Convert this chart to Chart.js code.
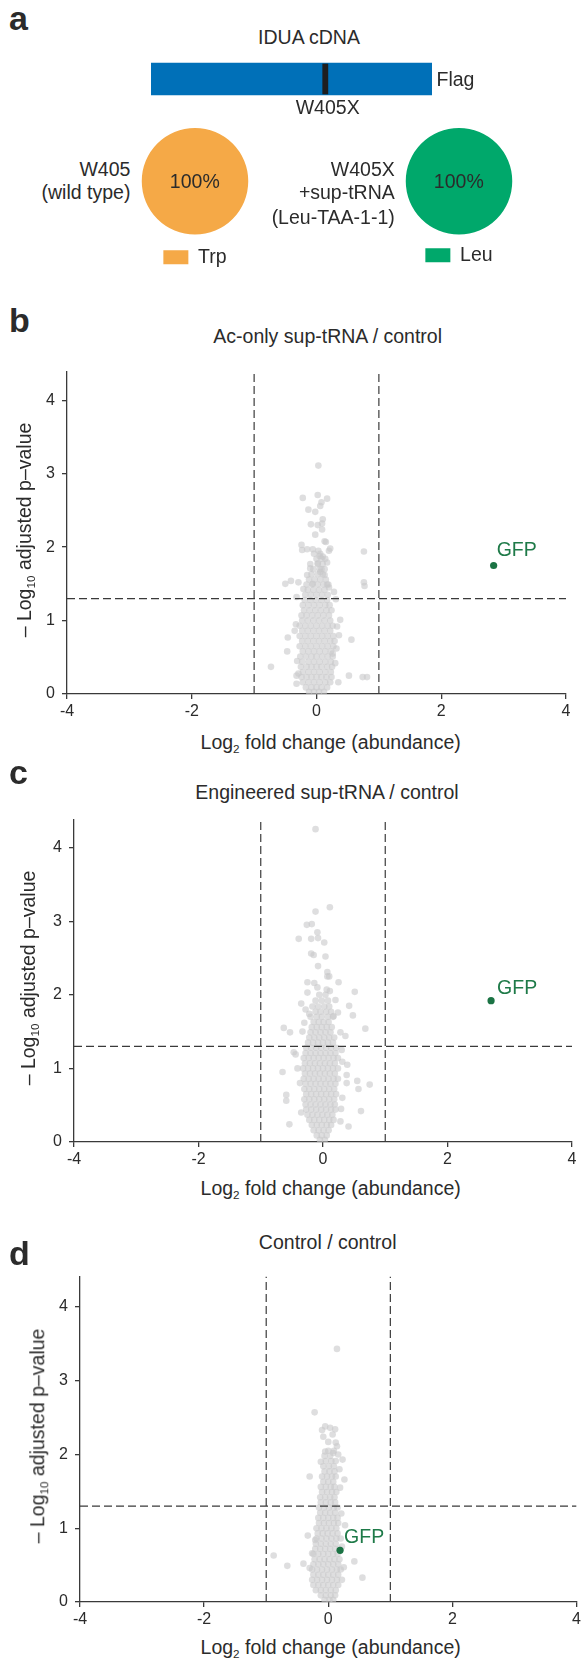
<!DOCTYPE html>
<html>
<head>
<meta charset="utf-8">
<script src="https://cdn.jsdelivr.net/npm/chart.js@4.4.1/dist/chart.umd.min.js"></script>
<style>
body { margin: 0; background: #fff; }
#fig { position: relative; width: 584px; height: 1665px; overflow: hidden; font-family: "Liberation Sans", Arial, Helvetica, sans-serif; color: #2b2b2b; }
#fig canvas { position: absolute; }
.t { position: absolute; line-height: 1; white-space: nowrap; }
.t sub { font-size: 0.6em; vertical-align: -0.3em; line-height: 0; }
</style>
</head>
<body>
<div id="fig"></div>
<script>
// panel a
const cdnaSpan = [0, 653]
const stopSpan = [399, 411]
const trpShare = [100]
const leuShare = [100]

// shared volcano axes
const yTicks = [0, 1, 2, 3, 4]
const foldCut = [-1, 1]
const pCut = 1.3
const yTop = [4.39, 4.38, 4.41]

// GFP [log2 fc, -log10 p]
const gfpB = [2.84, 1.75]
const gfpC = [2.70, 1.92]
const gfpD = [0.19, 0.70]

// scattered proteins [x, y]
const spotsB = [
  [0.03,3.11],[-0.22,2.67],[0.02,2.71],[0.08,2.61],[0.17,2.66],[0.06,2.56],[-0.13,2.51],[-0.02,2.48],
  [0.10,2.38],[-0.09,2.31],[0.02,2.30],[0.09,2.32],[0.09,2.24],[-0.02,2.17],[0.13,2.08],[0.15,2.07],
  [-0.24,2.03],[-0.23,1.96],[-0.15,1.97],[-0.06,1.97],[0.03,1.95],[0.20,1.95],[0.22,1.98],[0.05,1.88],
  [0.10,1.87],[0.17,1.79],[0.02,1.78],[-0.10,1.71],[0.08,1.70],[0.06,1.66],[0.13,1.62],[-0.15,1.62],
  [-0.50,1.50],[-0.41,1.54],[-0.29,1.52],[-0.06,1.50],[0.17,1.49],[0.20,1.45],[0.28,1.39],[-0.21,1.43],
  [0.76,1.94],[0.76,1.52],[0.77,1.47],[-0.32,1.32],[0.31,1.29],[0.38,1.01],[-0.46,0.77],[0.56,0.74],
  [0.36,0.80],[0.33,0.92],[-0.33,0.95],[-0.35,0.86],[-0.47,0.58],[0.26,0.55],[0.32,0.62],[-0.73,0.37],
  [0.52,0.25],[0.74,0.23],[0.81,0.23],[-0.32,0.14],[-0.29,0.28],[-0.32,0.25],[0.35,0.16],[0.30,0.42],
  [-0.31,0.45]
]
const spotsC = [
  [-0.12,4.25],[0.11,3.19],[-0.12,3.13],[-0.26,2.95],[-0.18,2.96],[-0.09,2.85],[-0.19,2.76],[-0.08,2.77],
  [-0.39,2.76],[0.02,2.71],[-0.19,2.56],[-0.15,2.54],[0.04,2.52],[-0.08,2.39],[0.07,2.31],[0.07,2.25],
  [0.10,2.25],[-0.25,2.17],[-0.14,2.16],[0.25,2.17],[-0.09,2.10],[0.06,2.07],[0.11,2.05],[0.51,2.04],
  [-0.25,2.03],[0.20,1.93],[-0.35,1.88],[0.42,1.85],[0.48,1.72],[-0.28,1.80],[-0.22,1.74],[0.17,1.71],
  [0.24,1.76],[-0.63,1.55],[-0.53,1.49],[0.68,1.54],[-0.30,1.62],[-0.33,1.50],[0.28,1.49],[0.36,1.44],
  [-0.47,1.22],[-0.44,1.19],[0.31,1.09],[0.30,1.25],[-0.65,0.95],[0.39,1.05],[-0.41,1.00],[0.55,0.83],
  [0.57,0.72],[0.38,0.80],[0.38,0.91],[0.75,0.78],[-0.59,0.64],[-0.59,0.56],[0.61,0.42],[-0.54,0.24],
  [0.41,0.21],[0.28,0.28],[-0.37,0.80],[0.31,0.60],[-0.35,0.40],[0.29,0.45]
]
const spotsD = [
  [0.14,3.43],[-0.22,2.57],[-0.05,2.38],[0.03,2.36],[0.11,2.34],[-0.10,2.33],[0.07,2.27],[-0.08,2.24],
  [0.00,2.17],[0.14,2.11],[0.12,2.16],[0.08,2.02],[-0.05,2.04],[0.23,1.93],[0.16,2.00],[-0.30,1.70],
  [0.26,1.66],[0.18,1.80],[-0.12,1.90],[0.19,1.55],[-0.33,0.90],[-0.21,0.84],[0.27,1.04],[-0.88,0.63],
  [-0.66,0.49],[-0.40,0.52],[-0.30,0.46],[0.42,0.55],[0.25,0.47],[0.55,0.33],[0.22,0.75],[0.22,0.30],
  [-0.26,0.66],[0.21,1.20]
]

// dense cloud, one row per -log10 p: [y, x, x, ...]
const coreB = [
  [0.03,-0.12,-0.04,0.04,0.12],
  [0.09,-0.17,-0.08,0.00,0.08,0.17],
  [0.16,-0.22,-0.13,-0.04,0.05,0.14,0.22],
  [0.23,-0.24,-0.16,-0.08,0.00,0.08,0.16,0.24],
  [0.30,-0.22,-0.13,-0.04,0.05,0.14,0.23],
  [0.37,-0.25,-0.16,-0.08,0.00,0.08,0.17,0.25],
  [0.44,-0.23,-0.13,-0.04,0.05,0.14,0.23],
  [0.51,-0.26,-0.17,-0.08,0.00,0.09,0.18,0.26],
  [0.58,-0.22,-0.13,-0.04,0.05,0.14,0.23],
  [0.65,-0.27,-0.18,-0.09,0.00,0.09,0.18,0.27],
  [0.72,-0.23,-0.14,-0.05,0.04,0.13,0.22,0.29],
  [0.79,-0.27,-0.18,-0.09,0.00,0.09,0.18,0.27],
  [0.86,-0.23,-0.14,-0.05,0.04,0.13,0.22],
  [0.93,-0.27,-0.18,-0.09,0.00,0.09,0.18,0.26],
  [1.00,-0.23,-0.14,-0.05,0.04,0.13,0.22],
  [1.07,-0.24,-0.16,-0.07,0.02,0.11,0.20],
  [1.14,-0.20,-0.11,-0.02,0.07,0.16,0.24],
  [1.21,-0.22,-0.13,-0.04,0.05,0.14,0.21],
  [1.28,-0.19,-0.10,-0.01,0.08,0.17],
  [1.35,-0.18,-0.09,0.00,0.09,0.18],
  [1.42,-0.14,-0.05,0.04,0.13],
  [1.49,-0.16,-0.07,0.02,0.11,0.19],
  [1.56,-0.12,-0.03,0.06,0.15],
  [1.63,-0.08,0.02,0.10],
  [1.70,-0.05,0.05,0.13],
  [1.77,-0.10,0.02,0.10],
  [1.84,0.00,0.08,0.14],
  [1.91,-0.04,0.06]
]
const coreC = [
  [0.03,-0.05,0.03],
  [0.09,-0.10,-0.02,0.06],
  [0.16,-0.15,-0.07,0.01,0.09],
  [0.23,-0.18,-0.10,-0.02,0.06,0.13],
  [0.30,-0.22,-0.14,-0.06,0.02,0.10,0.17],
  [0.37,-0.25,-0.17,-0.09,-0.01,0.07,0.15],
  [0.44,-0.27,-0.19,-0.11,-0.03,0.05,0.13,0.20],
  [0.51,-0.28,-0.20,-0.12,-0.04,0.04,0.12,0.19],
  [0.58,-0.30,-0.22,-0.14,-0.06,0.02,0.10,0.18],
  [0.65,-0.27,-0.19,-0.11,-0.03,0.05,0.13,0.21],
  [0.72,-0.30,-0.22,-0.14,-0.06,0.02,0.10,0.18],
  [0.79,-0.28,-0.20,-0.12,-0.04,0.04,0.12,0.20],
  [0.86,-0.31,-0.23,-0.15,-0.07,0.01,0.09,0.17,0.24],
  [0.93,-0.29,-0.21,-0.13,-0.05,0.03,0.11,0.19],
  [1.00,-0.32,-0.24,-0.16,-0.08,0.00,0.08,0.16,0.24],
  [1.07,-0.29,-0.21,-0.13,-0.05,0.03,0.11,0.19],
  [1.14,-0.31,-0.23,-0.15,-0.07,0.01,0.09,0.17,0.24],
  [1.21,-0.28,-0.20,-0.12,-0.04,0.04,0.12,0.20],
  [1.28,-0.27,-0.19,-0.11,-0.03,0.05,0.13,0.21],
  [1.35,-0.24,-0.16,-0.08,0.00,0.08,0.16],
  [1.42,-0.22,-0.14,-0.06,0.02,0.10,0.18],
  [1.49,-0.20,-0.12,-0.04,0.04,0.12],
  [1.56,-0.18,-0.10,-0.02,0.06,0.14],
  [1.63,-0.15,-0.07,0.01,0.09],
  [1.70,-0.20,-0.10,-0.02,0.08,0.16],
  [1.77,-0.12,-0.04,0.05,0.13],
  [1.84,-0.17,-0.08,0.02,0.10],
  [1.92,-0.12,-0.02,0.08],
  [2.00,-0.06,0.04]
]
const coreD = [
  [0.03,-0.06,0.02,0.08],
  [0.09,-0.12,-0.04,0.04,0.11],
  [0.16,-0.20,-0.12,-0.04,0.04,0.12],
  [0.23,-0.24,-0.16,-0.08,0.00,0.08,0.16],
  [0.30,-0.26,-0.18,-0.10,-0.02,0.06,0.14],
  [0.37,-0.24,-0.16,-0.08,0.00,0.08,0.16],
  [0.44,-0.26,-0.18,-0.10,-0.02,0.06,0.14,0.20],
  [0.51,-0.24,-0.16,-0.08,0.00,0.08,0.16],
  [0.58,-0.22,-0.14,-0.06,0.02,0.10,0.18],
  [0.65,-0.24,-0.16,-0.08,0.00,0.08,0.15],
  [0.72,-0.21,-0.13,-0.05,0.03,0.11,0.18],
  [0.79,-0.20,-0.12,-0.04,0.04,0.12],
  [0.86,-0.19,-0.11,-0.03,0.05,0.13,0.20],
  [0.93,-0.17,-0.09,-0.01,0.07,0.15],
  [1.00,-0.19,-0.11,-0.03,0.05,0.13],
  [1.07,-0.15,-0.07,0.01,0.09,0.16],
  [1.14,-0.16,-0.08,0.00,0.08,0.15],
  [1.21,-0.13,-0.05,0.03,0.11],
  [1.28,-0.15,-0.07,0.01,0.09,0.15],
  [1.35,-0.12,-0.04,0.04,0.11],
  [1.42,-0.13,-0.05,0.03,0.10],
  [1.49,-0.10,-0.02,0.06,0.13],
  [1.56,-0.12,-0.04,0.04,0.10],
  [1.63,-0.08,0.00,0.08],
  [1.70,-0.10,-0.02,0.06,0.12],
  [1.77,-0.06,0.02,0.10],
  [1.84,-0.08,0.01,0.09],
  [1.91,-0.04,0.05,0.12],
  [1.98,-0.06,0.03],
  [2.05,0.00,0.09]
]

const FONT = '"Liberation Sans", Arial, Helvetica, sans-serif'
const INK = '#2b2b2b'
const fig = document.getElementById('fig')
Chart.defaults.font.family = FONT
Chart.defaults.color = INK

function addText(html, x, base, size, align, extra) {
    const el = document.createElement('div')
    el.className = 't'
    el.innerHTML = html
    el.style.fontSize = size + 'px'
    el.style.left = x + 'px'
    el.style.top = (base - 0.8465 * size) + 'px'
    if (align === 'center') el.style.transform = 'translateX(-50%)'
    if (align === 'right') el.style.transform = 'translateX(-100%)'
    if (extra) Object.assign(el.style, extra)
    fig.appendChild(el)
}

function addVText(html, cx, cy, size) {
    const el = document.createElement('div')
    el.className = 't'
    el.innerHTML = html
    el.style.fontSize = size + 'px'
    el.style.left = cx + 'px'
    el.style.top = cy + 'px'
    el.style.transform = 'translate(-50%, -50%) rotate(-90deg)'
    fig.appendChild(el)
}

function addCanvas(left, top, w, h) {
    const c = document.createElement('canvas')
    c.width = w
    c.height = h
    c.style.left = left + 'px'
    c.style.top = top + 'px'
    c.style.width = w + 'px'
    c.style.height = h + 'px'
    fig.appendChild(c)
    return c
}

// ---- panel a: cDNA bar ----
new Chart(addCanvas(140, 54, 305, 50), {
    type: 'bar',
    data: {
        labels: ['IDUA'],
        datasets: [
            { data: [cdnaSpan], backgroundColor: '#0070b8', barThickness: 32, grouped: false, order: 1 },
            { data: [stopSpan], backgroundColor: '#1e1e1e', barThickness: 30, grouped: false, order: 0 }
        ]
    },
    options: {
        indexAxis: 'y',
        responsive: false,
        animation: false,
        events: [],
        layout: { padding: { left: 11, right: 13, top: 0, bottom: 0 } },
        plugins: { legend: { display: false }, tooltip: { enabled: false } },
        scales: {
            x: { display: false, min: cdnaSpan[0], max: cdnaSpan[1] },
            y: { display: false }
        }
    }
})

// ---- panel a: pies with legend ----
function pie(left, top, h, pad, label, color, values) {
    new Chart(addCanvas(left, top, 120, h), {
        type: 'pie',
        data: { labels: [label], datasets: [{ data: values, backgroundColor: color, borderWidth: 0 }] },
        options: {
            responsive: false,
            animation: false,
            events: [],
            plugins: {
                tooltip: { enabled: false },
                legend: {
                    position: 'bottom',
                    labels: { boxWidth: 25, boxHeight: 14, padding: pad, color: INK, font: { size: 19.5, family: FONT } }
                }
            }
        }
    })
}
pie(135, 128, 149, 13, 'Trp', '#f5a947', trpShare)
pie(399, 128, 147, 11, 'Leu', '#00a86b', leuShare)

// ---- volcano panels ----
const panels = [
    { top: 355, height: 369, left: 67, right: 566, yMax: yTop[0], core: coreB, spots: spotsB, gfp: gfpB, lab: [3, -15] },
    { top: 803, height: 369, left: 74, right: 572, yMax: yTop[1], core: coreC, spots: spotsC, gfp: gfpC, lab: [6, -12] },
    { top: 1260, height: 372, left: 80, right: 579, yMax: yTop[2], core: coreD, spots: spotsD, gfp: gfpD, lab: [4, -13] }
]

panels.forEach(p => {
    const pts = p.spots.map(d => ({ x: d[0], y: d[1] }))
    p.core.forEach(row => row.slice(1).forEach(x => pts.push({ x, y: row[0] })))

    const dash = {
        showLine: true, pointRadius: 0, borderColor: '#3a3a3a', borderWidth: 1.2,
        borderDash: [8, 4], fill: false, order: 0
    }
    const axisStyle = {
        grid: { drawOnChartArea: false, drawTicks: true, tickLength: 5, color: '#3a3a3a', lineWidth: 1.3 },
        border: { display: true, color: '#3a3a3a', width: 1.3 }
    }

    const gfpLabel = {
        id: 'gfpLabel',
        afterDatasetsDraw(chart) {
            const pt = chart.getDatasetMeta(1).data[0]
            const ctx = chart.ctx
            ctx.save()
            ctx.font = '19.5px ' + FONT
            ctx.fillStyle = '#1e7a48'
            ctx.textBaseline = 'middle'
            ctx.fillText('GFP', pt.x + p.lab[0], pt.y + p.lab[1])
            ctx.restore()
        }
    }

    new Chart(addCanvas(0, p.top, 584, p.height), {
        type: 'scatter',
        data: {
            datasets: [
                { data: pts, pointRadius: 3.3, backgroundColor: 'rgba(200,200,202,0.6)', pointBorderWidth: 0, borderWidth: 0, order: 2 },
                { data: [{ x: p.gfp[0], y: p.gfp[1] }], pointRadius: 3.6, backgroundColor: '#1b7344', pointBorderWidth: 0, borderWidth: 0, order: 1 },
                Object.assign({ data: [{ x: foldCut[0], y: 0 }, { x: foldCut[0], y: p.yMax }] }, dash),
                Object.assign({ data: [{ x: foldCut[1], y: 0 }, { x: foldCut[1], y: p.yMax }] }, dash),
                Object.assign({ data: [{ x: -4, y: pCut }, { x: 4, y: pCut }] }, dash)
            ]
        },
        options: {
            responsive: false,
            animation: false,
            events: [],
            layout: { padding: { top: 10, right: 584 - p.right, left: 0, bottom: 0 } },
            plugins: { legend: { display: false }, tooltip: { enabled: false } },
            scales: {
                x: Object.assign({
                    type: 'linear', min: -4, max: 4,
                    ticks: { stepSize: 2, padding: 3, maxRotation: 0, color: INK, font: { size: 16 } },
                    afterFit: s => { s.height = 30 }
                }, axisStyle),
                y: Object.assign({
                    min: 0, max: p.yMax,
                    afterBuildTicks: s => { s.ticks = yTicks.map(v => ({ value: v })) },
                    ticks: { padding: 7, color: INK, font: { size: 16 } },
                    afterFit: s => { s.width = p.left }
                }, axisStyle)
            }
        },
        plugins: [gfpLabel]
    })
})

// ---- text ----
const bold = { fontWeight: 'bold' }
addText('a', 9, 29.3, 34, 'left', bold)
addText('IDUA cDNA', 309, 45, 19.5, 'center')
addText('Flag', 436.5, 87, 19.5, 'left')
addText('W405X', 327.7, 115, 19.5, 'center')
addText('W405', 130.4, 176.7, 19.5, 'right')
addText('(wild type)', 130.4, 200, 19.5, 'right')
addText('100%', 194.8, 188.3, 19.5, 'center')
addText('W405X', 394.8, 176.7, 19.5, 'right')
addText('+sup-tRNA', 394.8, 200, 19.5, 'right')
addText('(Leu-TAA-1-1)', 394.8, 224.5, 19.5, 'right')
addText('100%', 458.8, 188.3, 19.5, 'center')

const xTitle = 'Log<sub>2</sub> fold change (abundance)'
const yTitle = '– Log<sub>10</sub> adjusted p–value'

addText('b', 9, 331.7, 34, 'left', bold)
addText('Ac-only sup-tRNA / control', 327.7, 344, 19.5, 'center')
addText(xTitle, 330.7, 750, 19.5, 'center')
addVText(yTitle, 25, 529.5, 19.5)

addText('c', 9, 783.3, 34, 'left', bold)
addText('Engineered sup-tRNA / control', 327, 800, 19.5, 'center')
addText(xTitle, 330.7, 1196, 19.5, 'center')
addVText(yTitle, 28.5, 977.5, 19.5)

addText('d', 9, 1265, 34, 'left', bold)
addText('Control / control', 327.7, 1249.3, 19.5, 'center')
addText(xTitle, 330.7, 1655, 19.5, 'center')
addVText(yTitle, 37.5, 1436, 19.5)
</script>
</body>
</html>
